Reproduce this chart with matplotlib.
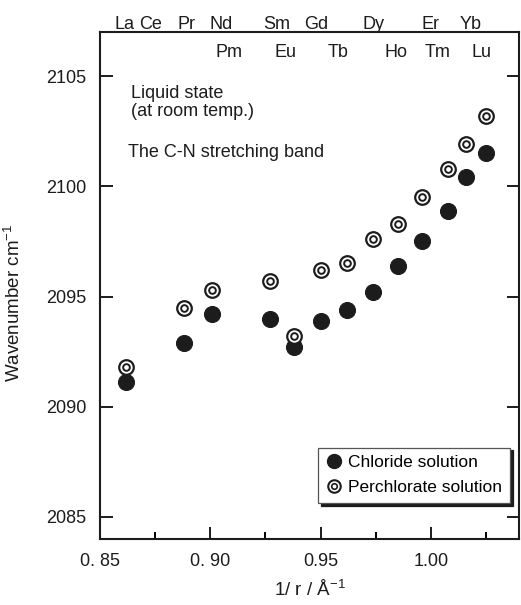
import matplotlib
matplotlib.use("Agg")
import matplotlib.pyplot as plt
from matplotlib.lines import Line2D
from matplotlib.legend_handler import HandlerTuple

plt.rcParams['font.family'] = ['Liberation Sans', 'DejaVu Sans']
plt.rcParams['mathtext.fontset'] = 'custom'
plt.rcParams['mathtext.rm'] = 'Liberation Sans'
plt.rcParams['mathtext.it'] = 'Liberation Sans:italic'

# ---- data ----
inv_r = [0.862, 0.888, 0.901, 0.927, 0.938, 0.950, 0.962, 0.974, 0.985, 0.996, 1.008, 1.016, 1.025]
chloride = [2091.1, 2092.9, 2094.2, 2094.0, 2092.7, 2093.9, 2094.4, 2095.2, 2096.4, 2097.5, 2098.9, 2100.4, 2101.5]
perchlorate = [2091.8, 2094.5, 2095.3, 2095.7, 2093.2, 2096.2, 2096.5, 2097.6, 2098.3, 2099.5, 2100.8, 2101.9, 2103.2]

top_elements = ['La', 'Ce', 'Pr', 'Nd', 'Sm', 'Gd', 'Dy', 'Er', 'Yb']
top_elem_x = [0.861, 0.873, 0.889, 0.905, 0.930, 0.948, 0.974, 1.000, 1.018]
bottom_elements = ['Pm', 'Eu', 'Tb', 'Ho', 'Tm', 'Lu']
bottom_elem_x = [0.9085, 0.934, 0.958, 0.984, 1.003, 1.023]

x_ticks = [0.85, 0.90, 0.95, 1.00]
x_ticklabels = ['0. 85', '0. 90', '0.95', '1.00']
y_ticks = [2085, 2090, 2095, 2100, 2105]

ink = '#1c1c1c'

fig = plt.figure(figsize=(5.21, 6.05), dpi=100)
ax = fig.add_axes([100/521, 1 - 539/605, 419/521, 507/605])

# chloride: filled dots
ax.plot(inv_r, chloride, 'o', ms=11.5, mfc=ink, mec=ink, mew=0.8, ls='none', zorder=3)
# perchlorate: double ring
ax.plot(inv_r, perchlorate, 'o', ms=10.5, mfc='white', mec=ink, mew=1.6, ls='none', zorder=3)
ax.plot(inv_r, perchlorate, 'o', ms=4.8, mfc='white', mec=ink, mew=1.4, ls='none', zorder=4)

ax.set_xlim(0.85, 1.04)
ax.set_ylim(2084, 2107)
ax.set_xticks(x_ticks)
ax.set_xticklabels(x_ticklabels)
ax.set_xticks([0.875, 0.925, 0.975, 1.025], minor=True)
ax.set_yticks(y_ticks)

ax.tick_params(axis='both', which='major', direction='in', length=9, width=1.4,
               labelsize=13, colors=ink, pad=10)
ax.tick_params(axis='x', which='minor', direction='in', length=5, width=1.4)
ax.tick_params(axis='y', which='both', right=True)
ax.tick_params(axis='x', which='both', top=False)
for s in ax.spines.values():
    s.set_linewidth(1.5)
    s.set_color(ink)

ax.set_ylabel('Wavenumber cm$^{-1}$', fontsize=13.5, color=ink)
ax.yaxis.set_label_coords(-0.181, 0.465)
ax.set_xlabel('1/ r / Å$^{-1}$', fontsize=13.5, color=ink, labelpad=7)

for name, xv in zip(top_elements, top_elem_x):
    ax.text(xv, 1.006, name, transform=ax.get_xaxis_transform(), ha='center',
            va='baseline', fontsize=13, color=ink)
for name, xv in zip(bottom_elements, bottom_elem_x):
    ax.text(xv, 0.951, name, transform=ax.get_xaxis_transform(), ha='center',
            va='baseline', fontsize=13, color=ink)

ax.text(0.073, 1 - (98 - 32)/507, 'Liquid state', transform=ax.transAxes,
        fontsize=13, va='baseline', color=ink)
ax.text(0.073, 1 - (116 - 32)/507, '(at room temp.)', transform=ax.transAxes,
        fontsize=13, va='baseline', color=ink)
ax.text(0.066, 1 - (157 - 32)/507, 'The C-N stretching band', transform=ax.transAxes,
        fontsize=13, va='baseline', color=ink)

h1 = Line2D([], [], marker='o', ms=10, mfc=ink, mec=ink, ls='none')
h2a = Line2D([], [], marker='o', ms=9, mfc='white', mec=ink, mew=1.5, ls='none')
h2b = Line2D([], [], marker='o', ms=4, mfc='white', mec=ink, mew=1.2, ls='none')
leg = ax.legend([h1, (h2a, h2b)], ['Chloride solution', 'Perchlorate solution'],
                handler_map={tuple: HandlerTuple(ndivide=1, pad=0)},
                loc='lower right', bbox_to_anchor=(0.979, 0.071), fontsize=12.5,
                frameon=True, fancybox=False, shadow={'color': ink, 'alpha': 1},
                framealpha=1, edgecolor='#555555', handlelength=0.9,
                handletextpad=0.4, borderpad=0.45, labelspacing=0.55,
                borderaxespad=0)
leg.get_frame().set_linewidth(0.9)

fig.savefig('out.png', dpi=100)
